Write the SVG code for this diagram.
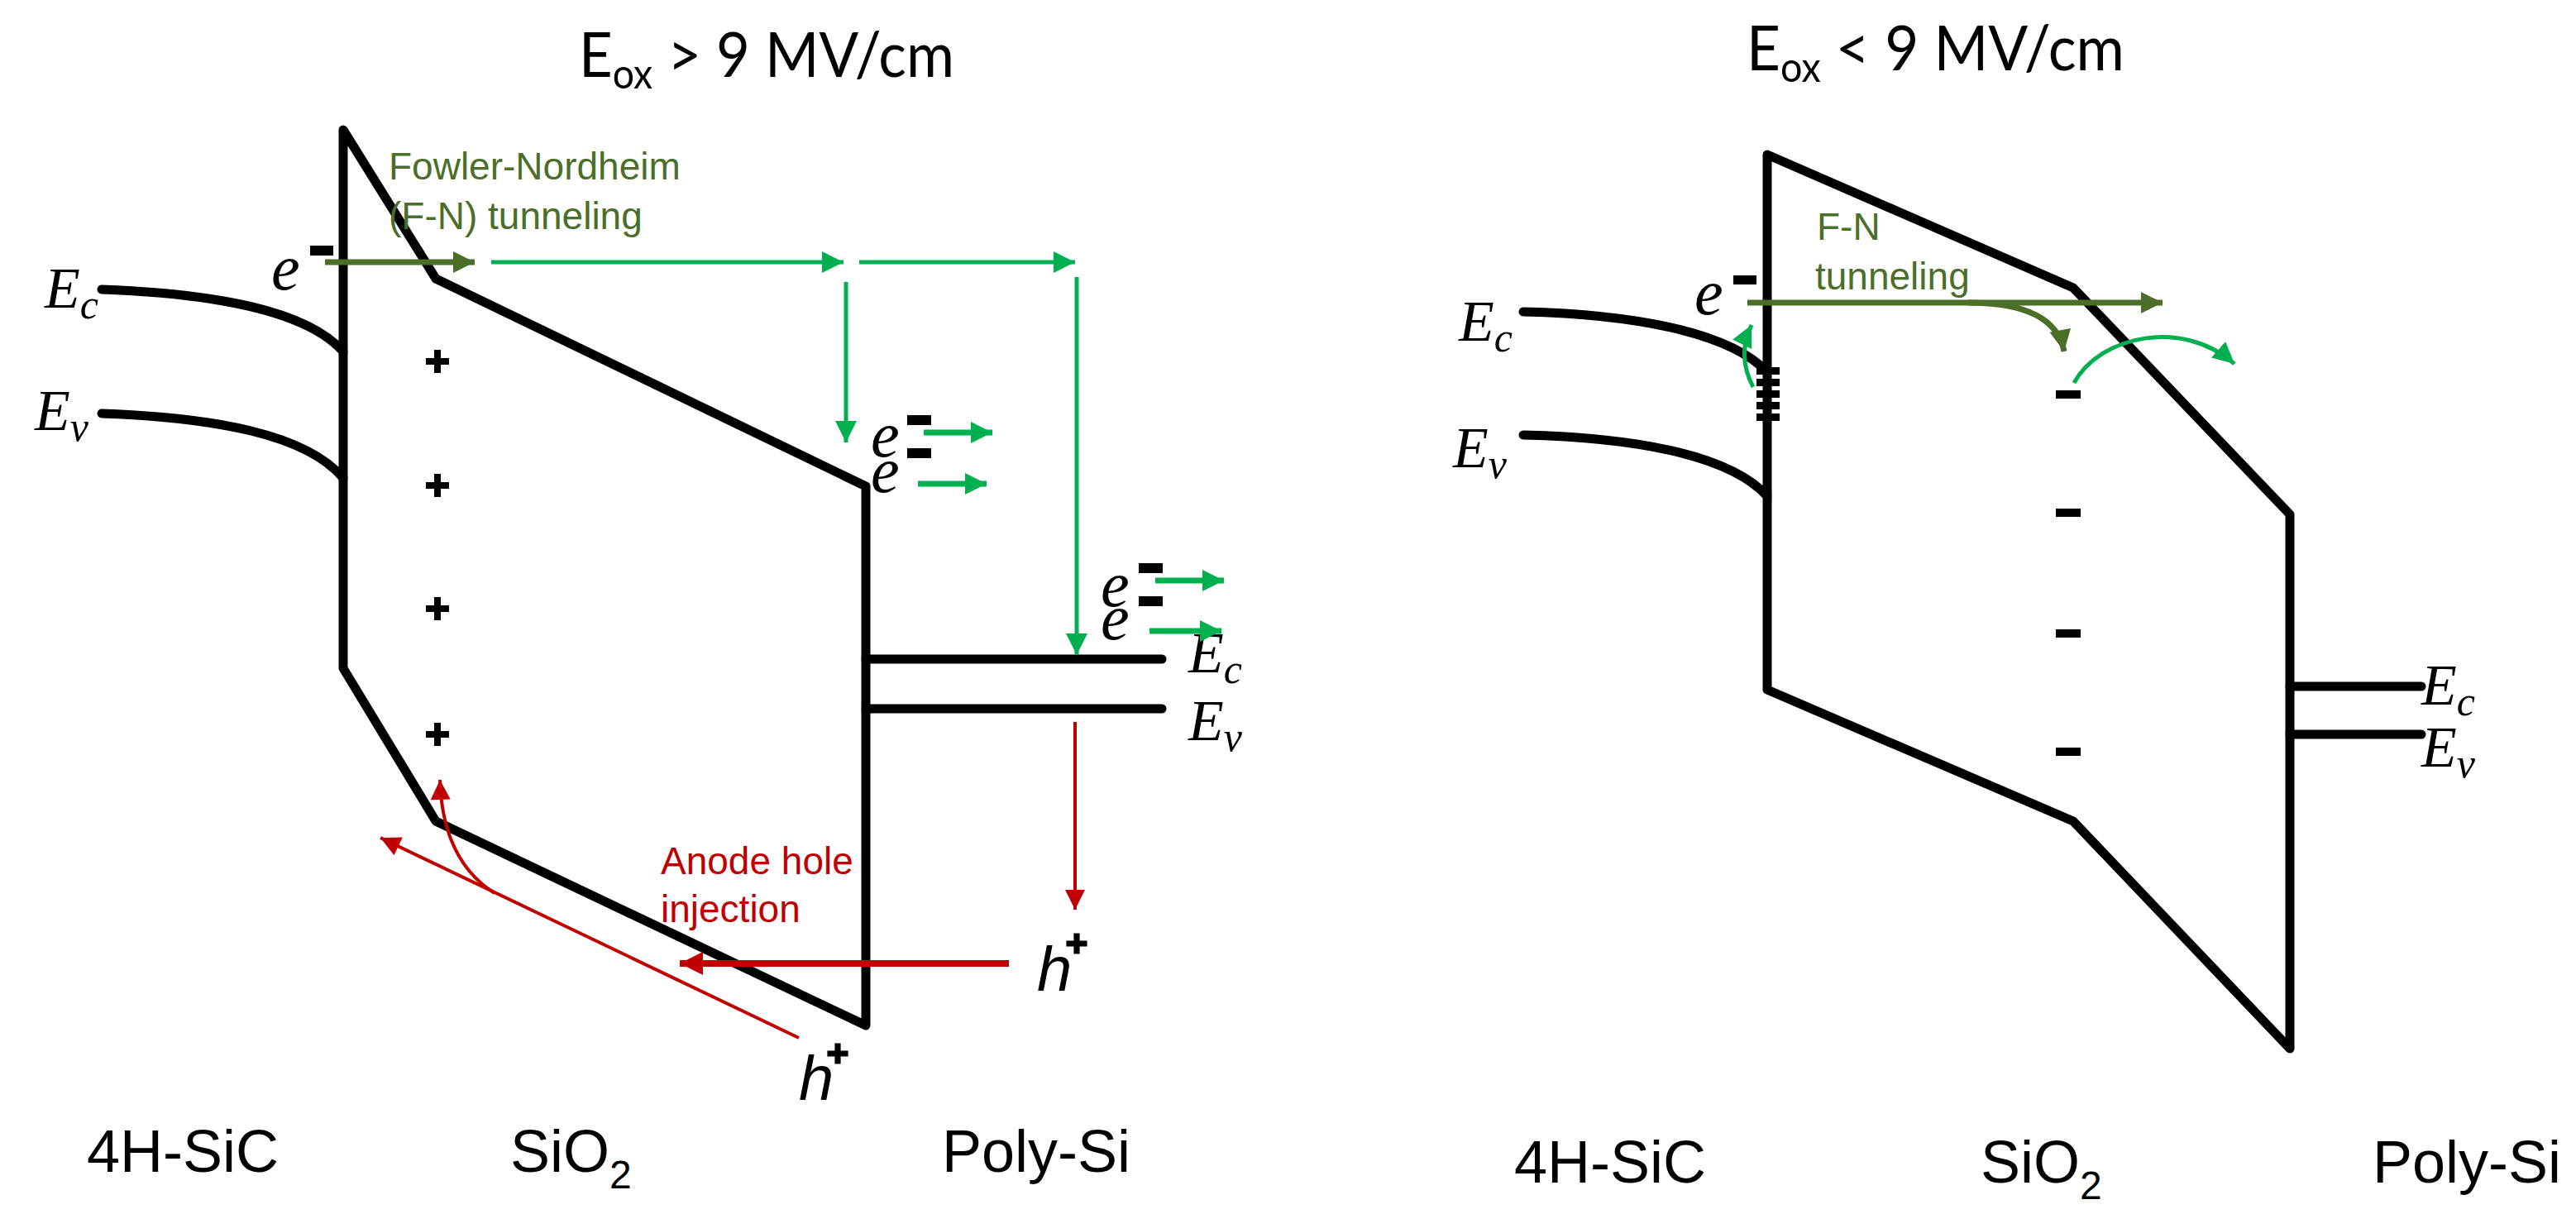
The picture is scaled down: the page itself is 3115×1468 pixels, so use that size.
<svg xmlns="http://www.w3.org/2000/svg" width="3115" height="1468" viewBox="0 0 3115 1468">
<style>
.band{fill:none;stroke:#000;stroke-width:11;stroke-linejoin:round;stroke-linecap:round}
.lg{fill:none;stroke:#00B050;stroke-width:5}
.lgs{fill:none;stroke:#00B050;stroke-width:7}
.dg{fill:none;stroke:#4B6E28;stroke-width:7}
.rd{fill:none;stroke:#C00000;stroke-width:4}
.rdt{fill:none;stroke:#C00000;stroke-width:8}
.math{font-family:"Liberation Serif",serif;font-style:italic;font-size:70px;fill:#000}
.el{font-family:"Liberation Serif",serif;font-style:italic;font-size:78px;fill:#000}
.hole{font-family:"Liberation Sans",sans-serif;font-style:italic;font-size:76px;fill:#000}
.lbl{font-family:"Liberation Sans",Arial,sans-serif;font-size:72px;fill:#000}
.ttl{font-family:Lato,"Open Sans",sans-serif;font-size:76px;fill:#000}
.gt{font-family:"Liberation Sans",Arial,sans-serif;font-size:46px;fill:#4B6E28}
.rt{font-family:"Liberation Sans",Arial,sans-serif;font-size:46px;fill:#C00000}
.chg{fill:#000}
</style>
<defs>
<marker id="mG" viewBox="0 0 10 10" refX="10" refY="5" markerWidth="26" markerHeight="26" markerUnits="userSpaceOnUse" orient="auto"><path d="M0,0 L10,5 L0,10 z" fill="#00B050"/></marker>
<marker id="mD" viewBox="0 0 10 10" refX="10" refY="5" markerWidth="28" markerHeight="26" markerUnits="userSpaceOnUse" orient="auto"><path d="M0,0 L10,5 L0,10 z" fill="#4B6E28"/></marker>
<marker id="mR" viewBox="0 0 10 10" refX="10" refY="5" markerWidth="26" markerHeight="24" markerUnits="userSpaceOnUse" orient="auto"><path d="M0,0 L10,5 L0,10 z" fill="#C00000"/></marker>
<marker id="mRt" viewBox="0 0 10 10" refX="10" refY="5" markerWidth="34" markerHeight="28" markerUnits="userSpaceOnUse" orient="auto"><path d="M0,0 L10,5 L0,10 z" fill="#C00000"/></marker>
<path id="plus" d="M-14,-4 H-4 V-14 H4 V-4 H14 V4 H4 V14 H-4 V4 H-14 z"/>
</defs>

<!-- ================= LEFT DIAGRAM ================= -->
<g id="title-left">
<text class="ttl" x="700" y="93" textLength="454" lengthAdjust="spacingAndGlyphs">E<tspan font-size="50" dy="14">ox</tspan><tspan dy="-14"> &gt; 9 MV/cm</tspan></text>
</g>

<g id="sic-left">
<path class="band" d="M123,350 C260,355 370,375 415,425"/>
<path class="band" d="M123,500 C260,505 370,525 415,578"/>
<text class="math" x="54" y="372">E<tspan font-size="50" dy="13">c</tspan></text>
<text class="math" x="42" y="520">E<tspan font-size="50" dy="13">v</tspan></text>
</g>

<g id="oxide-left">
<path class="band" d="M415,157 L527,337 L1047,588 L1047,1240 L527,993 L415,808 Z"/>
<use href="#plus" x="529" y="437" class="chg"/>
<use href="#plus" x="529" y="587" class="chg"/>
<use href="#plus" x="529" y="736" class="chg"/>
<use href="#plus" x="529" y="888" class="chg"/>
</g>

<g id="poly-left">
<path class="band" d="M1047,797 H1405"/>
<path class="band" d="M1047,857 H1405"/>
<text class="math" x="1437" y="813">E<tspan font-size="50" dy="13">c</tspan></text>
<text class="math" x="1437" y="895">E<tspan font-size="50" dy="13">v</tspan></text>
</g>

<g id="carriers-left">
<text class="el" x="328" y="350">e</text>
<rect class="chg" x="375" y="297" width="28" height="12"/>
<text class="el" x="1053" y="552">e</text>
<rect class="chg" x="1097" y="502" width="29" height="12"/>
<text class="el" x="1053" y="595">e</text>
<rect class="chg" x="1097" y="542" width="29" height="12"/>
<text class="el" x="1331" y="733">e</text>
<rect class="chg" x="1377" y="681" width="29" height="12"/>
<text class="el" x="1331" y="773">e</text>
<rect class="chg" x="1377" y="721" width="29" height="12"/>
<text class="hole" x="1254" y="1198">h</text>
<use href="#plus" x="1302" y="1141" class="chg" transform="translate(1302 1141) scale(0.9) translate(-1302 -1141)"/>
<text class="hole" x="966" y="1330">h</text>
<use href="#plus" x="1013" y="1274" class="chg" transform="translate(1013 1274) scale(0.9) translate(-1013 -1274)"/>
</g>

<g id="label-fn-left">
<text class="gt" x="470" y="217">Fowler-Nordheim</text>
<text class="gt" x="470" y="277">(F-N) tunneling</text>
</g>
<g id="label-ahi">
<text class="rt" x="799" y="1057">Anode hole</text>
<text class="rt" x="799" y="1115">injection</text>
</g>

<g id="labels-left">
<text class="lbl" x="105" y="1417">4H-SiC</text>
<text class="lbl" x="617" y="1417">SiO<tspan font-size="48" dy="20">2</tspan></text>
<text class="lbl" x="1139" y="1417">Poly-Si</text>
</g>

<g id="connectors-left">
<path class="dg" d="M393,317 H574" marker-end="url(#mD)"/>
<path class="lg" d="M594,317 H1020" marker-end="url(#mG)"/>
<path class="lg" d="M1039,317 H1300" marker-end="url(#mG)"/>
<path class="lg" d="M1023,341 V535" marker-end="url(#mG)"/>
<path class="lg" d="M1302,335 V792" marker-end="url(#mG)"/>
<path class="lgs" d="M1117,523 H1200" marker-end="url(#mG)"/>
<path class="lgs" d="M1110,585 H1193" marker-end="url(#mG)"/>
<path class="lgs" d="M1397,702 H1480" marker-end="url(#mG)"/>
<path class="lgs" d="M1390,763 H1477" marker-end="url(#mG)"/>
<path class="rd" d="M1300,873 V1100" marker-end="url(#mR)"/>
<path class="rdt" d="M1220,1165 H822" marker-end="url(#mRt)"/>
<path class="rd" d="M966,1255 L460,1013" marker-end="url(#mR)"/>
<path class="rd" d="M598,1080 Q535,1040 532,943" marker-end="url(#mR)"/>
</g>

<!-- ================= RIGHT DIAGRAM ================= -->
<g id="title-right">
<text class="ttl" x="2112" y="85" textLength="457" lengthAdjust="spacingAndGlyphs">E<tspan font-size="50" dy="14">ox</tspan><tspan dy="-14"> &lt; 9 MV/cm</tspan></text>
</g>

<g id="sic-right">
<path class="band" d="M1842,377 C1970,380 2090,400 2137,450"/>
<path class="band" d="M1842,526 C1970,529 2090,548 2137,600"/>
<text class="math" x="1764" y="412">E<tspan font-size="50" dy="13">c</tspan></text>
<text class="math" x="1757" y="565">E<tspan font-size="50" dy="13">v</tspan></text>
<g id="traps">
<rect class="chg" x="2124" y="444" width="28" height="9"/>
<rect class="chg" x="2124" y="458" width="28" height="9"/>
<rect class="chg" x="2124" y="472" width="28" height="9"/>
<rect class="chg" x="2124" y="486" width="28" height="9"/>
<rect class="chg" x="2124" y="500" width="28" height="9"/>
</g>
</g>

<g id="oxide-right">
<path class="band" d="M2137,187 L2507,348 L2769,622 L2769,1268 L2507,993 L2137,834 Z"/>
<rect class="chg" x="2486" y="472" width="30" height="10"/>
<rect class="chg" x="2486" y="615" width="30" height="10"/>
<rect class="chg" x="2486" y="761" width="30" height="10"/>
<rect class="chg" x="2486" y="904" width="30" height="10"/>
</g>

<g id="poly-right">
<path class="band" d="M2769,830 H2928"/>
<path class="band" d="M2769,888 H2928"/>
<text class="math" x="2928" y="852">E<tspan font-size="50" dy="13">c</tspan></text>
<text class="math" x="2928" y="927">E<tspan font-size="50" dy="13">v</tspan></text>
</g>

<g id="carriers-right">
<text class="el" x="2049" y="380">e</text>
<rect class="chg" x="2096" y="333" width="28" height="11"/>
</g>

<g id="label-fn-right">
<text class="gt" x="2197" y="290">F-N</text>
<text class="gt" x="2195" y="350">tunneling</text>
</g>

<g id="labels-right">
<text class="lbl" x="1831" y="1430">4H-SiC</text>
<text class="lbl" x="2395" y="1430">SiO<tspan font-size="48" dy="20">2</tspan></text>
<text class="lbl" x="2869" y="1430">Poly-Si</text>
</g>

<g id="connectors-right">
<path class="dg" d="M2113,366 H2615" marker-end="url(#mD)"/>
<path class="dg" d="M2380,366 Q2485,366 2496,425" marker-end="url(#mD)"/>
<path class="lg" d="M2120,468 Q2100,430 2118,393" marker-end="url(#mG)"/>
<path class="lg" d="M2508,463 C2540,405 2640,385 2702,440" marker-end="url(#mG)"/>
</g>
</svg>
